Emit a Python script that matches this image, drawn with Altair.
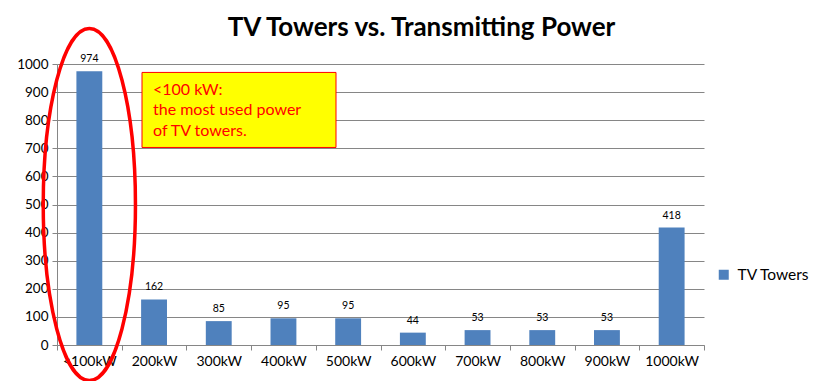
import altair as alt
import pandas as pd

categories = ["<100kW", "200kW", "300kW", "400kW", "500kW", "600kW", "700kW", "800kW", "900kW", "1000kW"]
towers = [974, 162, 85, 95, 95, 44, 53, 53, 53, 418]
series_name = "TV Towers"
title_text = "TV Towers vs. Transmitting Power"
callout_lines = ["<100 kW:", "the most used power", "of TV towers."]
y_ticks = [0, 100, 200, 300, 400, 500, 600, 700, 800, 900, 1000]

df = pd.DataFrame({"power": categories, "towers": towers, "series": [series_name] * len(categories)})

FONT = "Lato"
GRID = "#868686"
BLUE = "#4F81BD"

x_enc = alt.X("power:N", sort=categories, title=None,
              scale=alt.Scale(paddingInner=0, paddingOuter=0),
              axis=alt.Axis(labelAngle=0, tickBand="extent", tickSize=5, tickColor=GRID,
                            domainColor=GRID, labelFont=FONT, labelFontSize=14,
                            labelColor="#000", labelPadding=4, grid=False))
y_enc = alt.Y("towers:Q", title=None,
              scale=alt.Scale(domain=[0, 1000], nice=False),
              axis=alt.Axis(values=y_ticks, tickCount=len(y_ticks), format="d", labelOverlap=False,
                            gridColor=GRID, domainColor=GRID,
                            tickColor=GRID, tickSize=5, labelFont=FONT, labelFontSize=13.5,
                            labelColor="#000", labelPadding=4))

base = alt.Chart(df)

bars = base.mark_bar(width=alt.RelativeBandSize(0.4)).encode(
    x=x_enc, y=y_enc,
    color=alt.Color("series:N", title=None,
                    scale=alt.Scale(range=[BLUE]),
                    legend=alt.Legend(orient="none", legendX=659, legendY=203,
                                      symbolType="square", symbolSize=100, symbolStrokeWidth=0,
                                      labelFont=FONT, labelFontSize=15.5, labelColor="#000",
                                      padding=0, labelOffset=6)),
)

labels = base.mark_text(baseline="alphabetic", dy=-9, font=FONT, fontSize=10.5, color="#000").encode(
    x=alt.X("power:N", sort=categories), y="towers:Q", text="towers:Q"
)

# callout box and text
box = alt.Chart(pd.DataFrame({"a": [0]})).mark_rect(fill="#FFFF00", stroke="#FF0000", strokeWidth=1).encode(
    x=alt.value(85), x2=alt.value(279), y=alt.datum(970), y2=alt.datum(703)
)
callout = alt.Chart(pd.DataFrame({"t": ["\n".join(callout_lines)]})).mark_text(
    align="left", baseline="top", font=FONT, fontSize=16, color="#FF0000",
    lineBreak="\n", lineHeight=20.5
).encode(x=alt.value(96), y=alt.datum(937), text="t:N")

# red ellipse highlighting the first category
ellipse_path = "M 0 -1 A 0.262 1 0 1 1 0 1 A 0.262 1 0 1 1 0 -1 Z"
ellipse = alt.Chart(pd.DataFrame({"a": [0]})).mark_point(
    shape=ellipse_path, filled=False, stroke="#FF0000", strokeWidth=3.5, opacity=1, size=352 * 352
).encode(x=alt.datum(categories[0]), y=alt.datum(500))

chart = alt.layer(bars, labels, box, callout, ellipse).properties(
    width=647, height=281,
    background="white",
    title=alt.TitleParams(title_text, font=FONT, fontSize=26, fontWeight="bold", color="#000",
                          anchor="middle", dx=41, dy=27, offset=8),
    autosize=alt.AutoSizeParams(type="none"),
    padding={"left": 49, "top": 56, "right": 106, "bottom": 36},
).configure_view(stroke=None)

chart.save("out.html", embed_options={"renderer": "svg", "actions": False})
